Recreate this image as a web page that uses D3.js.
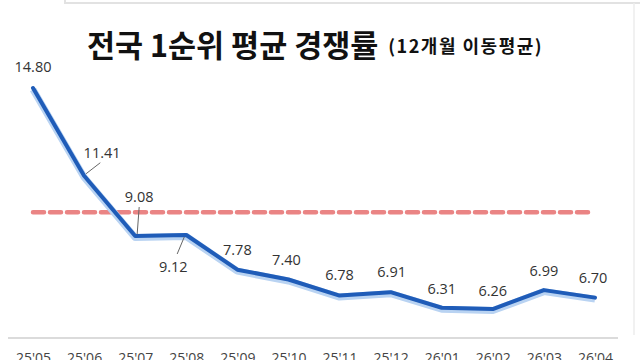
<!DOCTYPE html>
<html>
<head>
<meta charset="utf-8">
<script src="https://cdn.jsdelivr.net/npm/d3@7"></script>
<style>
  body { margin: 0; background: #fff; }
  svg { display: block; }
</style>
</head>
<body>
<div id="container"></div>
<script>
// 월별 데이터 (12개월 이동평균)
let months = ["25'05", "25'06", "25'07", "25'08", "25'09", "25'10", "25'11", "25'12", "26'01", "26'02", "26'03", "26'04"];
let rates = [14.80, 11.41, 9.08, 9.12, 7.78, 7.40, 6.78, 6.91, 6.31, 6.26, 6.99, 6.70];
let refValue = 10.0;

// label offsets relative to the point (dx, dy), leader line for the crowded ones
let labelDx = [0, 18, 4, -13, 0, -2, 0, 1, 0, 0, 0, -2];
let labelDy = [-21, -23, -39, 32, -20, -20, -21, -20, -19, -18, -19, -20];
let leader = [false, true, true, true, false, false, false, false, false, false, false, false];

let w = 640;
let h = 360;

let viz = d3.select("#container")
  .append("svg")
    .attr("width", w)
    .attr("height", h)
;

// faint frame of the original screenshot
viz.append("path")
    .attr("d", "M65,0 L65,3 L640,3")
    .attr("fill", "none")
    .attr("stroke", "#e2e2e2")
    .attr("stroke-width", 2);
viz.append("line")
    .attr("x1", 634).attr("x2", 634).attr("y1", 3).attr("y2", 335)
    .attr("stroke", "#ececec")
    .attr("stroke-width", 1.5);

let xScale = d3.scalePoint().domain(months).range([33, 595]);
let yScale = d3.scaleLinear().domain([5.14, 14.8]).range([338, 88]);

// title
let title = viz.append("text")
    .attr("x", 87)
    .attr("y", 57)
    .attr("font-family", "'Noto Sans CJK KR', sans-serif")
    .attr("fill", "#111");
title.append("tspan")
    .attr("font-size", 30.5)
    .attr("font-weight", "bold")
    .text("전국 1순위 평균 경쟁률");
title.append("tspan")
    .attr("dx", 10)
    .attr("dy", -4)
    .attr("font-size", 18)
    .attr("font-weight", "bold")
    .attr("letter-spacing", 1.5)
    .text("(12개월 이동평균)");

// x axis
let xAxis = d3.axisBottom(xScale).tickSize(0).tickPadding(15);
let xAxisGroup = viz.append("g")
    .attr("class", "xaxisgroup")
    .attr("transform", "translate(0,338)")
    .call(xAxis);
xAxisGroup.select(".domain").remove();
xAxisGroup.append("line")
    .attr("x1", 8).attr("x2", 618)
    .attr("stroke", "#cfcfcf")
    .attr("stroke-width", 1.5);
xAxisGroup.selectAll("text")
    .attr("font-family", "'Open Sans', sans-serif")
    .attr("font-size", 14)
    .attr("fill", "#444");

// reference dashed line
viz.append("line")
    .attr("x1", xScale(months[0]))
    .attr("x2", xScale(months[months.length - 1]) - 4)
    .attr("y1", yScale(refValue))
    .attr("y2", yScale(refValue))
    .attr("stroke", "#e87777")
    .attr("stroke-width", 4.5)
    .attr("stroke-dasharray", "11,6")
    .attr("stroke-linecap", "round")
    .attr("opacity", 0.9);

let lineMaker = d3.line()
    .x(function(d, i){ return xScale(months[i]); })
    .y(function(d){ return yScale(d); });

// soft glow under the main line
viz.append("path")
    .datum(rates)
    .attr("d", lineMaker)
    .attr("fill", "none")
    .attr("stroke", "#b9d3f2")
    .attr("stroke-width", 7)
    .attr("stroke-linejoin", "round")
    .attr("transform", "translate(0,1.5)");

viz.append("path")
    .datum(rates)
    .attr("d", lineMaker)
    .attr("fill", "none")
    .attr("stroke", "#1f5cb8")
    .attr("stroke-width", 4)
    .attr("stroke-linejoin", "round")
    .attr("stroke-linecap", "round");

// leader lines
rates.forEach(function(d, i){
  if (!leader[i]) return;
  let px = xScale(months[i]);
  let py = yScale(d);
  let ly = py + labelDy[i];
  let ey = labelDy[i] < 0 ? ly + 10 : ly - 13;
  let ex = px + labelDx[i] * (labelDy[i] < 0 ? 0.9 : 0.7);
  if (i == 2) { ex = px + 4; }
  viz.append("line")
      .attr("x1", px + (labelDx[i] > 0 ? 2 : -2))
      .attr("y1", py + (labelDy[i] < 0 ? -2 : 2))
      .attr("x2", ex)
      .attr("y2", ey)
      .attr("stroke", "#666")
      .attr("stroke-width", 1);
});

// value labels
viz.selectAll(".vlabel")
  .data(rates)
  .enter()
  .append("text")
    .attr("class", "vlabel")
    .attr("x", function(d, i){ return xScale(months[i]) + labelDx[i]; })
    .attr("y", function(d, i){ return yScale(d) + labelDy[i] + 5; })
    .attr("text-anchor", "middle")
    .attr("font-family", "'Open Sans', sans-serif")
    .attr("font-size", 14.5)
    .attr("fill", "#333")
    .text(function(d){ return d.toFixed(2); });
</script>
</body>
</html>
